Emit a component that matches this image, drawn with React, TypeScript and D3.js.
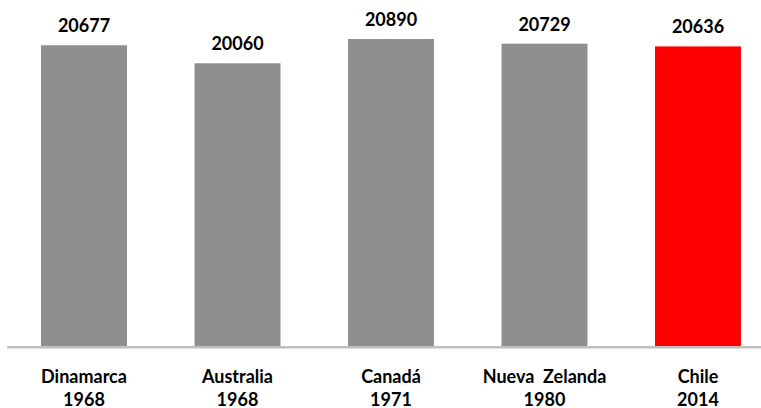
import React from "react";
import * as d3 from "d3";

const countries = ["Dinamarca", "Australia", "Canadá", "Nueva  Zelanda", "Chile"];
const years = ["1968", "1968", "1971", "1980", "2014"];
const values = [20677, 20060, 20890, 20729, 20636];
const highlight = ["Chile"];

const W = 761;
const H = 408;
const GRAY = "#8f8f8f";
const RED = "#ff0000";
const FONT = "Lato, 'Open Sans', sans-serif";

export default function App() {
  const x = d3
    .scaleBand<string>()
    .domain(countries)
    .range([7.25, 774.75])
    .paddingInner(0.44)
    .paddingOuter(0.22);

  const y = d3.scaleLinear().domain([10400, 20890]).range([346, 39]);

  const base = y(10400);

  return (
    <svg
      width={W}
      height={H}
      style={{ position: "absolute", left: 0, top: 0, background: "#fff" }}
    >
      {countries.map((c, i) => {
        const x0 = x(c)!;
        const yy = y(values[i]);
        const cx = x0 + x.bandwidth() / 2;
        return (
          <g key={c}>
            <rect
              x={x0}
              y={yy}
              width={x.bandwidth()}
              height={base - yy}
              fill={highlight.includes(c) ? RED : GRAY}
            />
            <text
              x={cx}
              y={yy - 13}
              textAnchor="middle"
              fontFamily={FONT}
              fontWeight={700}
              fontSize={18}
              fill="#000"
            >
              {d3.format("d")(values[i])}
            </text>
            <text
              x={cx}
              y={383}
              textAnchor="middle"
              fontFamily={FONT}
              fontWeight={700}
              fontSize={18}
              fill="#000"
              style={{ whiteSpace: "pre" }}
            >
              {c}
            </text>
            <text
              x={cx}
              y={406}
              textAnchor="middle"
              fontFamily={FONT}
              fontWeight={700}
              fontSize={18}
              fill="#000"
            >
              {years[i]}
            </text>
          </g>
        );
      })}
      <line
        x1={x.range()[0]}
        x2={x.range()[1]}
        y1={base + 1.25}
        y2={base + 1.25}
        stroke="#bfbfbf"
        strokeWidth={2.5}
      />
    </svg>
  );
}
